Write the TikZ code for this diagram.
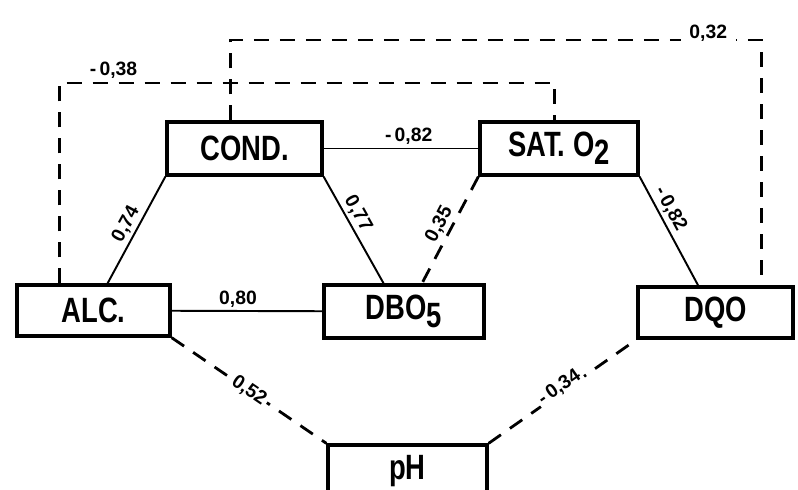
\documentclass[tikz,border=0pt]{standalone}
\usepackage{fontspec}
\setsansfont{Liberation Sans}
\newfontfamily\boxfont[FakeStretch=0.78]{Liberation Sans}
\usetikzlibrary{calc}

\tikzset{
  var/.style={draw, line width=1.9pt, minimum height=1.06cm, inner sep=0pt,
    font=\boxfont\bfseries\fontsize{20}{22}\selectfont},
  solidlink/.style={line width=1.1pt},
  dashlink/.style={line width=1.6pt, dash pattern=on 0.3cm off 0.22cm},
  coef/.style={font=\sffamily\bfseries\fontsize{11}{12}\selectfont, inner sep=1.5pt},
}

\begin{document}
\begin{tikzpicture}[x=0.02cm,y=-0.02cm]
    \clip (0,0) rectangle (798,490);
    % variables
    \node[var, minimum width=3.1cm] (cond) at (244.5,148.5) {COND.};
    \node[var, minimum width=3.16cm] (sat) at (559,148.5) {SAT.\ O\raisebox{-0.45ex}{2}};
    \node[var, minimum width=3.06cm, minimum height=1.02cm] (alc) at (93.5,310.5) {ALC.};
    \node[var, minimum width=3.2cm] (dbo) at (404,311.5) {DBO\raisebox{-0.45ex}{5}};
    \node[var, minimum width=3.1cm, minimum height=1.02cm] (dqo) at (715.5,312.5) {DQO};
    \node[var, minimum width=3.18cm] (ph) at (407.5,471.5) {pH};
    % attach points
    \coordinate (alcup) at ($(alc.north west)!0.28!(alc.north east)$);
    \coordinate (alcin) at ($(alc.north west)!0.59!(alc.north east)$);
    \coordinate (dboa) at ($(dbo.north west)!0.375!(dbo.north east)$);
    \coordinate (dbob) at ($(dbo.north west)!0.61!(dbo.north east)$);
    \coordinate (dqoin) at ($(dqo.north west)!0.39!(dqo.north east)$);
    \coordinate (dqoup) at ($(dqo.north west)!0.79!(dqo.north east)$);
    \coordinate (condup) at ($(cond.north west)!0.41!(cond.north east)$);
    \coordinate (satup) at ($(sat.north west)!0.47!(sat.north east)$);
    \coordinate (top38) at (0,83);
    \coordinate (top32) at (0,40);
    % correlations
    \draw[solidlink] (cond) -- node[coef, above, pos=0.55] {-\,0,82} (sat);
    \draw[solidlink] (alc) -- node[coef, above, pos=0.44] {0,80} (dbo);
    \draw[solidlink] (cond.south west) -- node[coef, above, sloped] {0,74} (alcin);
    \draw[solidlink] (cond.south east) -- node[coef, above, sloped, pos=0.4] {0,77} (dboa);
    \draw[dashlink] (sat.south west) -- node[coef, above, sloped] {0,35} (dbob);
    \draw[solidlink] (sat.south east) -- node[coef, above, sloped, pos=0.35] {-\,0,82} (dqoin);
    \draw[dashlink] (alc.south east) -- node[coef, sloped, fill=white] {0,52} (ph.north west);
    \draw[dashlink] (ph.north east) -- node[coef, sloped, fill=white, yshift=3pt] {-\,0,34} (dqo.south west);
    \draw[dashlink] (alcup) -- (alcup |- top38) -- node[coef, above, pos=0.11] {-\,0,38} (satup |- top38) -- (satup);
    \draw[dashlink] (condup) -- (condup |- top32) -- node[coef, fill=white, inner xsep=5pt, yshift=4pt, pos=0.9] {0,32} (dqoup |- top32) -- (dqoup);
\end{tikzpicture}
\end{document}
